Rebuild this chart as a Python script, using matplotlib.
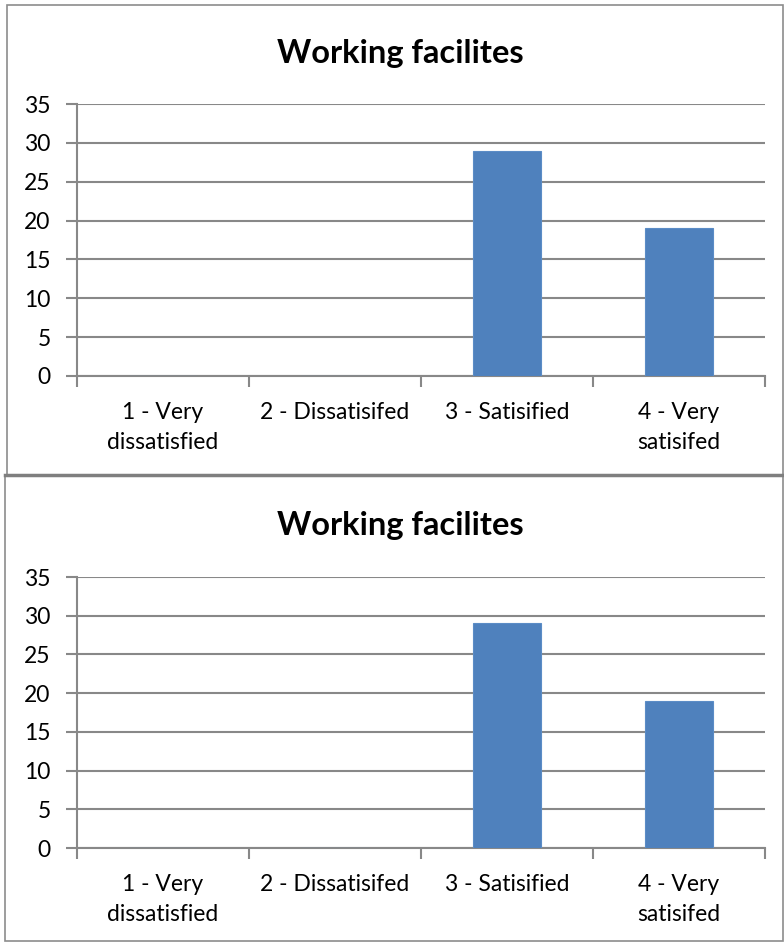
import numpy as np
import matplotlib.pyplot as plt
from matplotlib.patches import Rectangle

plt.rcParams['font.family'] = ['Lato', 'DejaVu Sans']

categories = ['1 - Very\ndissatisfied', '2 - Dissatisifed', '3 - Satisified', '4 - Very\nsatisifed']
counts = [0, 0, 29, 19]
title = 'Working facilites'
yticks = [0, 5, 10, 15, 20, 25, 30, 35]

W, H = 784, 947
fig = plt.figure(figsize=(W / 100, H / 100), dpi=100)
fig.patch.set_facecolor('white')

grid_col = '#888888'
bar_col = '#4f81bd'


def px_axes(left, top, right, bottom):
    return fig.add_axes([left / W, 1 - bottom / H, (right - left) / W, (bottom - top) / H])


def draw_chart(ax, title_y):
    x = np.arange(len(categories))
    ax.bar(x, counts, width=0.4, color=bar_col, edgecolor='#5b8cc6', linewidth=0.8, zorder=3)
    ax.set_xlim(-0.5, len(categories) - 0.5)
    ax.set_ylim(0, 35)
    ax.set_yticks(yticks)
    ax.yaxis.grid(True, color=grid_col, linewidth=1.5, zorder=0)
    ax.set_axisbelow(True)
    for s in ['top', 'right']:
        ax.spines[s].set_visible(False)
    for s in ['left', 'bottom']:
        ax.spines[s].set_color(grid_col)
        ax.spines[s].set_linewidth(1.5)
    ax.tick_params(axis='y', length=8, width=1.5, color=grid_col, labelsize=16.5, pad=11)
    ax.set_xticks(x)
    ax.set_xticklabels(categories, fontsize=16.5, linespacing=1.55)
    ax.tick_params(axis='x', which='major', length=0, pad=18.5)
    ax.set_xticks(np.arange(-0.5, len(categories)), minor=True)
    ax.tick_params(axis='x', which='minor', length=8, width=1.5, color=grid_col)
    fig.text(400 / W, 1 - title_y / H, title, ha='center', va='center',
             fontsize=23.5, fontweight='bold')


ax1 = px_axes(77, 104, 765, 376)
draw_chart(ax1, 53)
ax2 = px_axes(77, 577, 765, 848)
draw_chart(ax2, 525)

# chart borders
fig.patches.append(Rectangle((7 / W, 1 - 475 / H), 776 / W, 470 / H, transform=fig.transFigure,
                             fill=False, edgecolor='#8c8c8c', linewidth=1.2))
fig.patches.append(Rectangle((5 / W, 1 - 941 / H), 778 / W, 466 / H, transform=fig.transFigure,
                             fill=False, edgecolor='#8c8c8c', linewidth=1.2))
fig.lines.append(plt.Line2D([5 / W, 1], [1 - 475 / H, 1 - 475 / H], transform=fig.transFigure,
                            color='#7f7f7f', linewidth=2.5))

fig.savefig('out.png', dpi=100)
